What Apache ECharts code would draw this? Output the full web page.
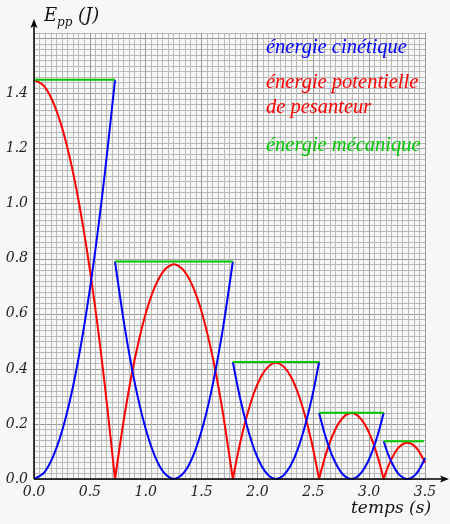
<!DOCTYPE html>
<html>
<head>
<meta charset="utf-8">
<script src="https://cdn.jsdelivr.net/npm/echarts@6/dist/echarts.min.js"></script>
<style>
  html, body { margin: 0; padding: 0; background: #f7f7f7; }
  #echart { width: 450px; height: 524px; }
</style>
</head>
<body>
<div id="echart"></div>
<script>
/*
	Rebonds d'une balle : énergies en fonction du temps
	chaque segment = une chute ou un rebond (temps en s, énergies en J)
*/
var segTemps = [
	[0, 0.091, 0.181, 0.272, 0.363, 0.453, 0.544, 0.634, 0.725],
	[0.725, 0.813, 0.901, 0.989, 1.077, 1.165, 1.2525, 1.340, 1.428, 1.516, 1.604, 1.692, 1.78],
	[1.78, 1.844, 1.909, 1.973, 2.037, 2.102, 2.166, 2.230, 2.295, 2.359, 2.423, 2.488, 2.552],
	[2.552, 2.600, 2.648, 2.697, 2.745, 2.793, 2.841, 2.889, 2.937, 2.986, 3.034, 3.082, 3.13],
	[3.13, 3.165, 3.201, 3.236, 3.271, 3.307, 3.342, 3.377, 3.413, 3.448, 3.483, 3.5]
];
// énergie potentielle de pesanteur
var segEpp = [
	[1.45, 1.427, 1.359, 1.246, 1.087, 0.884, 0.634, 0.340, 0],
	[0, 0.238, 0.433, 0.585, 0.693, 0.758, 0.78, 0.758, 0.693, 0.585, 0.433, 0.238, 0],
	[0, 0.129, 0.234, 0.317, 0.375, 0.410, 0.422, 0.410, 0.375, 0.317, 0.234, 0.129, 0],
	[0, 0.073, 0.133, 0.180, 0.213, 0.233, 0.24, 0.233, 0.213, 0.180, 0.133, 0.073, 0],
	[0, 0.040, 0.073, 0.099, 0.117, 0.128, 0.132, 0.128, 0.117, 0.099, 0.073, 0.059]
];
// énergie cinétique
var segEc = [
	[0, 0.023, 0.091, 0.204, 0.363, 0.566, 0.816, 1.110, 1.45],
	[0.79, 0.549, 0.351, 0.198, 0.088, 0.022, 0, 0.022, 0.088, 0.198, 0.351, 0.549, 0.79],
	[0.425, 0.295, 0.189, 0.106, 0.047, 0.012, 0, 0.012, 0.047, 0.106, 0.189, 0.295, 0.425],
	[0.241, 0.167, 0.107, 0.060, 0.027, 0.007, 0, 0.007, 0.027, 0.060, 0.107, 0.167, 0.241],
	[0.137, 0.095, 0.061, 0.034, 0.015, 0.004, 0, 0.004, 0.015, 0.034, 0.061, 0.076]
];
// énergie mécanique : paliers
var emDebut = [0, 0.725, 1.78, 2.552, 3.13];
var emFin = [0.725, 1.78, 2.552, 3.13, 3.49];
var emValeur = [1.45, 0.79, 0.425, 0.241, 0.137];

var legendes = ['énergie cinétique', 'énergie potentielle', 'de pesanteur', 'énergie mécanique'];

var BLEU = '#0000ff', ROUGE = '#ff0000', VERT = '#00c800';

function lignesGrille(n, major, minor) {
	var c = [major];
	for (var i = 1; i < n; i++) c.push(minor);
	return c;
}

function estMultiple(v, pas) {
	return Math.abs(v / pas - Math.round(v / pas)) < 1e-6;
}

var myEchart = echarts.init(document.getElementById('echart'));

var series = [];
function ajoute(xs, ys, color, smooth) {
	var data = [];
	for (var i = 0; i < xs.length; i++) data.push([xs[i], ys[i]]);
	series.push({
		type: 'line',
		data: data,
		smooth: smooth,
		showSymbol: false,
		silent: true,
		animation: false,
		lineStyle: { color: color, width: 2 },
		clip: false
	});
}
for (var s = 0; s < segTemps.length; s++) ajoute(segTemps[s], segEpp[s], ROUGE, 0.3);
for (var s = 0; s < segTemps.length; s++) ajoute(segTemps[s], segEc[s], BLEU, 0.3);
for (var s = 0; s < emValeur.length; s++) ajoute([emDebut[s], emFin[s]], [emValeur[s], emValeur[s]], VERT, false);

var labelStyle = {
	fontFamily: 'DejaVu Serif',
	fontStyle: 'italic',
	fontSize: 14,
	color: '#222'
};

var option = {
	backgroundColor: '#f7f7f7',
	animation: false,
	grid: {
		left: 34,
		right: 25,
		top: 33,
		bottom: 45
	},
	xAxis: {
		type: 'value',
		min: 0,
		max: 3.5,
		interval: 0.05,
		axisLine: { show: false },
		axisTick: { show: false },
		splitLine: {
			show: true,
			lineStyle: { color: lignesGrille(10, '#9a9a9a', '#b9b9b9'), width: 1 }
		},
		axisLabel: Object.assign({
			margin: 6,
			formatter: function (v) {
				return estMultiple(v, 0.5) ? v.toFixed(1) : '';
			}
		}, labelStyle)
	},
	yAxis: {
		type: 'value',
		min: 0,
		max: 1.62,
		interval: 0.02,
		axisLine: { show: false },
		axisTick: { show: false },
		splitLine: {
			show: true,
			lineStyle: { color: lignesGrille(10, '#9a9a9a', '#b9b9b9'), width: 1 }
		},
		axisLabel: Object.assign({
			margin: 6,
			formatter: function (v) {
				return estMultiple(v, 0.2) && v < 1.5 ? v.toFixed(1) : '';
			}
		}, labelStyle)
	},
	graphic: [
		// axes + flèches
		{ type: 'line', shape: { x1: 34, y1: 479, x2: 34, y2: 24 }, style: { stroke: '#000', lineWidth: 1.5 }, z: 100 },
		{ type: 'polygon', shape: { points: [[34, 19], [30.5, 28], [34, 26], [37.5, 28]] }, style: { fill: '#000' }, z: 100 },
		{ type: 'line', shape: { x1: 34, y1: 479, x2: 444, y2: 479 }, style: { stroke: '#000', lineWidth: 1.5 }, z: 100 },
		{ type: 'polygon', shape: { points: [[449, 479], [440, 475.5], [442, 479], [440, 482.5]] }, style: { fill: '#000' }, z: 100 },
		// noms des axes
		{ type: 'text', left: 44, top: 7, style: { text: 'E', font: 'italic 18px "DejaVu Serif"', fill: '#111' }, z: 100 },
		{ type: 'text', left: 57, top: 17, style: { text: 'pp', font: 'italic 12px "DejaVu Serif"', fill: '#111' }, z: 100 },
		{ type: 'text', left: 78, top: 7, style: { text: '(J)', font: 'italic 18px "DejaVu Serif"', fill: '#111' }, z: 100 },
		{ type: 'text', left: 351, top: 500, style: { text: 'temps (s)', font: 'italic 17px "DejaVu Serif"', fill: '#111' }, z: 100 },
		// légendes
		{ type: 'text', left: 266, top: 38, style: { text: legendes[0], font: 'italic 20.5px "Liberation Serif"', fill: BLEU }, z: 100 },
		{ type: 'text', left: 266, top: 73, style: { text: legendes[1], font: 'italic 20.5px "Liberation Serif"', fill: ROUGE }, z: 100 },
		{ type: 'text', left: 266, top: 98, style: { text: legendes[2], font: 'italic 20.5px "Liberation Serif"', fill: ROUGE }, z: 100 },
		{ type: 'text', left: 266, top: 136, style: { text: legendes[3], font: 'italic 20.5px "Liberation Serif"', fill: VERT }, z: 100 }
	],
	series: series
};

myEchart.setOption(option);
</script>
</body>
</html>
